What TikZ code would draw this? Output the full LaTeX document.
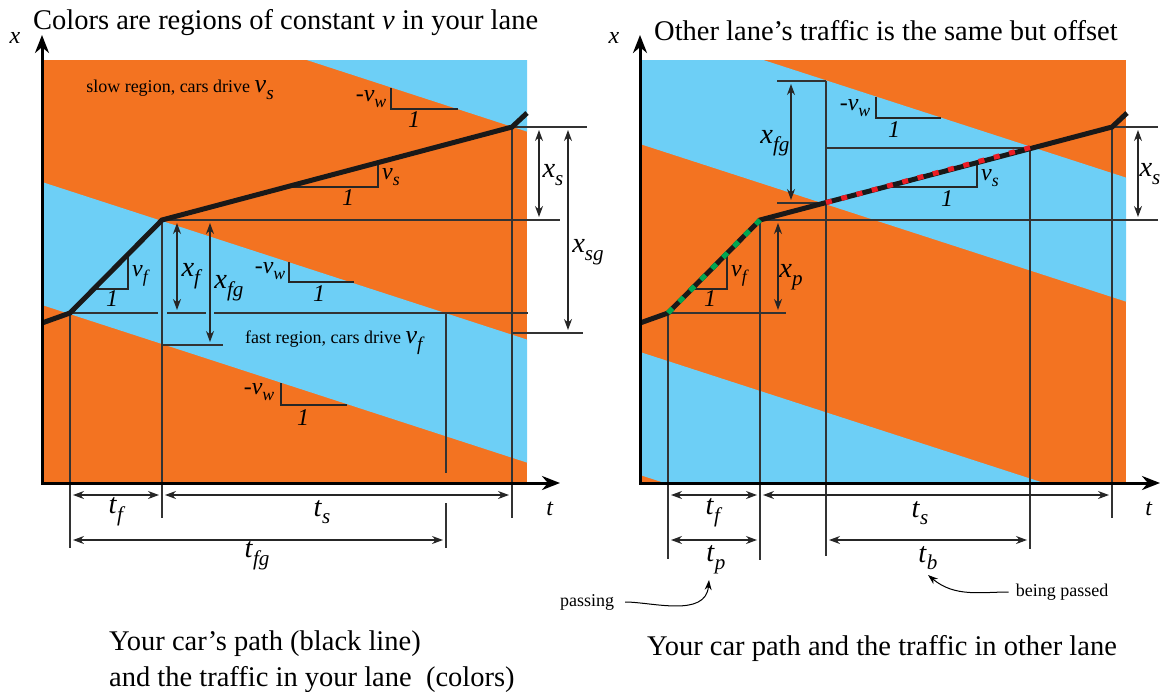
\documentclass[tikz,border=0pt]{standalone}
\usepackage{graphicx}
\usepackage{fontspec}
\setmainfont{Liberation Serif}
\usetikzlibrary{arrows.meta}

\definecolor{slowclr}{RGB}{243,115,33}
\definecolor{fastclr}{RGB}{109,207,246}
\definecolor{passclr}{RGB}{0,166,81}
\definecolor{beingclr}{RGB}{237,28,36}

\newcommand*{\vsub}[2]{\textit{#1}\raisebox{-0.27em}{\scalebox{0.74}{\textit{#2}}}}
\newcommand*{\drop}{157.6}

\begin{document}
\begin{tikzpicture}
[
	x=1pt, y=-1pt,
	axisline/.style={line width=3pt,{Stealth[length=18pt,width=14pt]}-{Stealth[length=18pt,width=14pt]}},
	guide/.style={line width=1.1pt,black!80},
	dim/.style={line width=1.1pt,black!85,shorten <=3pt,shorten >=3pt,
		{Stealth[length=11pt,width=8pt]}-{Stealth[length=11pt,width=8pt]}},
	carpath/.style={line width=5pt,black!90},
	slope/.style={line width=1.1pt,black!85},
	note/.style={line width=1pt,-{Stealth[length=10pt,width=7pt]}},
	biglbl/.style={font=\fontsize{28.5}{36}\selectfont,inner sep=0pt},
	midlbl/.style={font=\fontsize{24}{28}\selectfont,inner sep=0pt},
	smalllbl/.style={font=\fontsize{18}{22}\selectfont,inner sep=0pt}
]

	\useasboundingbox (0,0) rectangle (1161,691);

	% left: traffic in your lane
	\fill[slowclr] (42,60) rectangle (527,483);
	\begin{scope}
		\clip (42,60) rectangle (527,483);
		\fill[fastclr] (42,-149) -- (527,-149+\drop) -- (527,-26+\drop) -- (42,-26) -- cycle;
		\fill[fastclr] (42,182) -- (527,182+\drop) -- (527,305+\drop) -- (42,305) -- cycle;
	\end{scope}

	% guides
	\draw[guide] (512,127) -- (587,127);
	\draw[guide] (162,220) -- (560,220);
	\draw[guide]
	  (70,313) -- (158,313)
	  (167,313) -- (206,313)
	  (214,313) -- (528,313)
	;
	\draw[guide] (162,345) -- (223,345);
	\draw[guide] (513,333) -- (583,333);
	\draw[guide] (70,313) -- (70,548);
	\draw[guide] (162,220) -- (162,518);
	\draw[guide] (446,313) -- (446,473) (446,503) -- (446,548);
	\draw[guide] (512,127) -- (512,518);

	% slopes
	\draw[slope] (391,88) -- (391,109) -- (458,109);
	\draw[slope] (378,163) -- (378,187) -- (286,187);
	\draw[slope] (128,254) -- (128,289) -- (94,289);
	\draw[slope] (289,262) -- (289,282) -- (354,282);
	\draw[slope] (281,383) -- (281,405) -- (347,405);

	% your car
	\coordinate (a0) at (42,323);
	\coordinate (a1) at (70,313);
	\coordinate (a2) at (162,220);
	\coordinate (a3) at (512,127);
	\coordinate (a4) at (527,113);
	\draw[carpath] (a0) -- (a1) -- (a2) -- (a3) -- (a4);

	% dimensions
	\draw[dim] (539,127) -- (539,220);
	\draw[dim] (568,127) -- (568,333);
	\draw[dim] (177,220) -- (177,313);
	\draw[dim] (210,220) -- (210,345);
	\draw[dim] (70,495) -- (162,495);
	\draw[dim] (162,495) -- (512,495);
	\draw[dim] (70,540) -- (446,540);

	% axes
	\draw[axisline] (42,35) -- (42,483) -- (560,483);

	\node[midlbl] (xaxl) at (15,38) {\textit{x}};
	\node[midlbl] (taxl) at (550,509) {\textit{t}};
	\node[biglbl,anchor=base west] (ttll) at (33,29) {Colors are regions of constant \textit{v} in your lane};
	\node[smalllbl] (slow) at (180,90) {slow region, cars drive {\fontsize{26}{28}\selectfont\vsub{v}{s}}};
	\node[smalllbl] (fast) at (335,343) {fast region, cars drive {\fontsize{26}{28}\selectfont\vsub{v}{f}}};

	\node[biglbl] (xs) at (553,175) {\vsub{x}{s}};
	\node[biglbl] (xsg) at (588,252) {\vsub{x}{sg}};
	\node[biglbl] (xf) at (192,276) {\vsub{x}{f}};
	\node[biglbl] (xfg) at (229,288) {\vsub{x}{fg}};
	\node[biglbl] (tf) at (117,512) {\vsub{t}{f}};
	\node[biglbl] (ts) at (322,512) {\vsub{t}{s}};
	\node[biglbl] (tfg) at (257,556) {\vsub{t}{fg}};

	\node[midlbl] (vwa) at (371,99) {-\vsub{v}{w}};
	\node[midlbl] (onea) at (414,120) {\textit{1}};
	\node[midlbl] (vs) at (391,177) {\vsub{v}{s}};
	\node[midlbl] (oneb) at (348,198) {\textit{1}};
	\node[midlbl] (vf) at (141,276) {\vsub{v}{f}};
	\node[midlbl] (onec) at (112,299) {\textit{1}};
	\node[midlbl] (vwb) at (270,271) {-\vsub{v}{w}};
	\node[midlbl] (oned) at (319,294) {\textit{1}};
	\node[midlbl] (vwc) at (259,392) {-\vsub{v}{w}};
	\node[midlbl] (onee) at (303,418) {\textit{1}};

	\node[biglbl,anchor=west,align=left] (capl) at (109,662) {Your car's path (black line)\\and the traffic in your lane~ (colors)};

	% right: traffic in the other lane
	\fill[slowclr] (640,60) rectangle (1126,483);
	\begin{scope}
		\clip (640,60) rectangle (1126,483);
		\fill[fastclr] (640,20) -- (1126,20+\drop) -- (1126,144+\drop) -- (640,144) -- cycle;
		\fill[fastclr] (640,352) -- (1126,352+\drop) -- (1126,475+\drop) -- (640,475) -- cycle;
	\end{scope}

	% guides
	\draw[guide] (777,81) -- (826,81);
	\draw[guide] (777,203) -- (826,203);
	\draw[guide] (826,81) -- (826,556);
	\draw[guide] (826,148) -- (1030,148);
	\draw[guide] (1030,148) -- (1030,549);
	\draw[guide] (1112,127) -- (1112,518);
	\draw[guide] (1112,127) -- (1158,127);
	\draw[guide] (760,220) -- (1158,220);
	\draw[guide] (668,313) -- (786,313);
	\draw[guide] (668,313) -- (668,559);
	\draw[guide] (760,220) -- (760,560);

	% slopes
	\draw[slope] (876,97) -- (876,118) -- (941,118);
	\draw[slope] (977,163) -- (977,187) -- (885,187);
	\draw[slope] (727,253) -- (727,289) -- (692,289);

	% your car, passing and being passed
	\coordinate (b0) at (640,323);
	\coordinate (b1) at (668,313);
	\coordinate (b2) at (760,220);
	\coordinate (b3) at (1112,127);
	\coordinate (b4) at (1127,113);
	\coordinate (b5) at (826,202.6);
	\coordinate (b6) at (1030,147.6);
	\draw[carpath] (b0) -- (b1) -- (b2) -- (b3) -- (b4);
	\draw[line width=5pt,passclr,dash pattern=on 6.5pt off 9.1pt] (b1) -- (b2);
	\draw[line width=5pt,beingclr,dash pattern=on 6pt off 9.8pt] (b5) -- (b6);

	% dimensions
	\draw[dim] (791,81) -- (791,203);
	\draw[dim] (1138,127) -- (1138,220);
	\draw[dim] (778,220) -- (778,313);
	\draw[dim] (668,495) -- (760,495);
	\draw[dim] (760,495) -- (1112,495);
	\draw[dim] (668,540) -- (760,540);
	\draw[dim] (826,540) -- (1030,540);

	% axes
	\draw[axisline] (640,35) -- (640,483) -- (1160,483);

	\node[midlbl] (xaxr) at (614,38) {\textit{x}};
	\node[midlbl] (taxr) at (1149,509) {\textit{t}};
	\node[biglbl,anchor=base west] (ttlr) at (654,40) {Other lane's traffic is the same but offset};

	\node[biglbl] (xfgr) at (775,143) {\vsub{x}{fg}};
	\node[biglbl] (xsr) at (1150,174) {\vsub{x}{s}};
	\node[biglbl] (xp) at (791,277) {\vsub{x}{p}};
	\node[biglbl] (tfr) at (714,513) {\vsub{t}{f}};
	\node[biglbl] (tsr) at (920,513) {\vsub{t}{s}};
	\node[biglbl] (tp) at (716,560) {\vsub{t}{p}};
	\node[biglbl] (tb) at (928,558) {\vsub{t}{b}};

	\node[midlbl] (vwr) at (855,108) {-\vsub{v}{w}};
	\node[midlbl] (onef) at (894,130) {\textit{1}};
	\node[midlbl] (vsr) at (990,178) {\vsub{v}{s}};
	\node[midlbl] (oneg) at (947,199) {\textit{1}};
	\node[midlbl] (vfr) at (740,276) {\vsub{v}{f}};
	\node[midlbl] (oneh) at (710,299) {\textit{1}};

	\node[smalllbl] (passing) at (587,602) {passing};
	\node[smalllbl] (bpassed) at (1062,592) {being passed};
	\coordinate (tpend) at (709,580);
	\coordinate (tbend) at (928,575);
	\draw[note,shorten <=11pt] (passing.east) to[out=0,in=-95] (tpend);
	\draw[note,shorten <=7pt] (bpassed.west) to[out=180,in=-40] (tbend);

	\node[biglbl] (capr) at (882,648) {Your car path and the traffic in other lane};

\end{tikzpicture}
\end{document}
